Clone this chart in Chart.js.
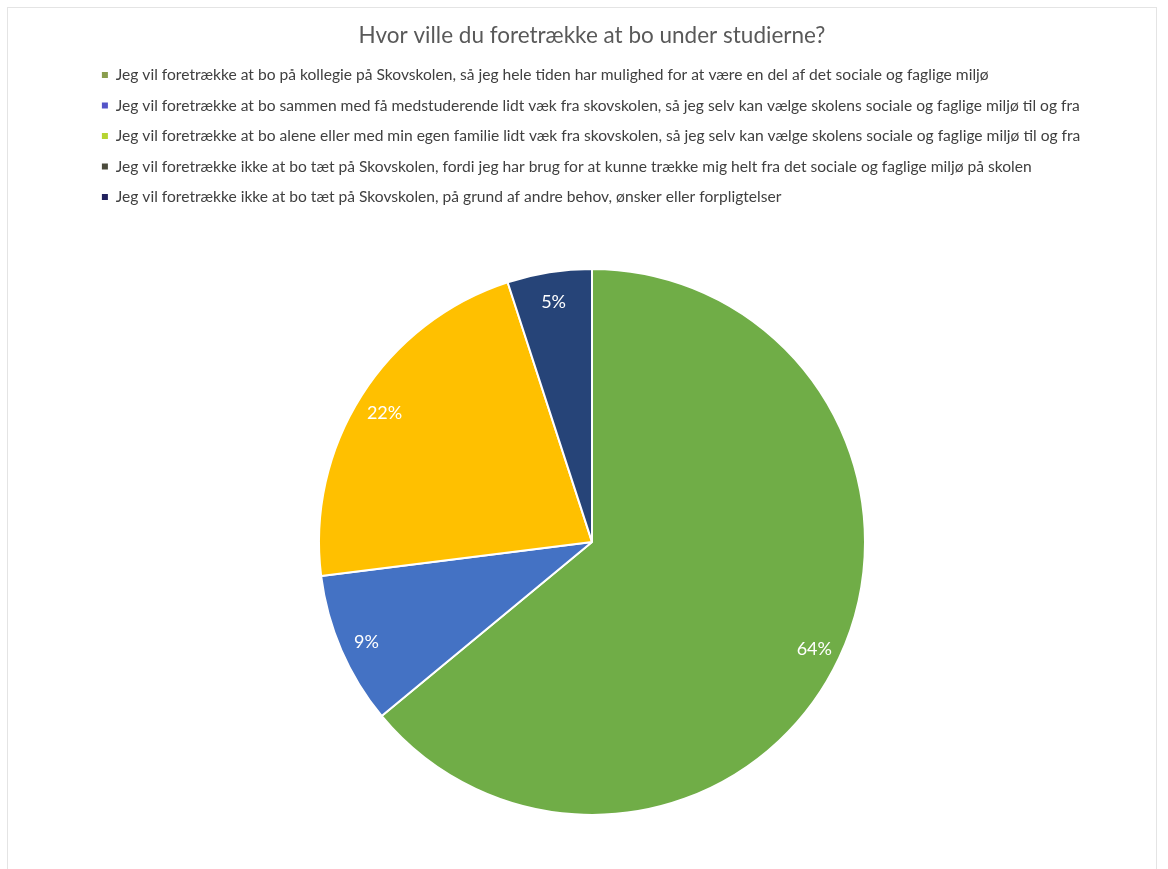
<!DOCTYPE html>
<html>
<head>
<meta charset="utf-8">
<script src="https://cdn.jsdelivr.net/npm/chart.js@4.4.1/dist/chart.umd.min.js"></script>
<style>
  html, body { margin: 0; padding: 0; background: #fff; }
  #frame { position: absolute; left: 7px; top: 7px; width: 1150px; height: 862px; border: 1px solid #e4e4e4; border-bottom: none; box-sizing: border-box; }
  canvas { position: absolute; left: 0; top: 0; }
</style>
</head>
<body>
<div id="frame"></div>
<canvas id="myChart" width="1168" height="869"></canvas>
<script>
var chartTitle = 'Hvor ville du foretrække at bo under studierne?';

var categories = [
    'Jeg vil foretrække at bo på kollegie på Skovskolen, så jeg hele tiden har mulighed for at være en del af det sociale og faglige miljø',
    'Jeg vil foretrække at bo sammen med få medstuderende lidt væk fra skovskolen, så jeg selv kan vælge skolens sociale og faglige miljø til og fra',
    'Jeg vil foretrække at bo alene eller med min egen familie lidt væk fra skovskolen, så jeg selv kan vælge skolens sociale og faglige miljø til og fra',
    'Jeg vil foretrække ikke at bo tæt på Skovskolen, fordi jeg har brug for at kunne trække mig helt fra det sociale og faglige miljø på skolen',
    'Jeg vil foretrække ikke at bo tæt på Skovskolen, på grund af andre behov, ønsker eller forpligtelser'
];

// percent of answers
var shares = [64, 9, 22, 0, 5];

var sliceColors = ['#70AD47', '#4472C4', '#FFC000', '#4B4B3C', '#264478'];
var markerColors = ['#8A9E4E', '#5454C8', '#B6D432', '#4B4B3C', '#22225E'];

// percentage labels near the outer edge of each slice
var sliceLabels = {
    id: 'sliceLabels',
    afterDatasetsDraw: function (chart) {
        var ctx = chart.ctx;
        var meta = chart.getDatasetMeta(0);
        ctx.save();
        ctx.fillStyle = '#ffffff';
        ctx.font = '18px Lato';
        ctx.textAlign = 'center';
        ctx.textBaseline = 'middle';
        meta.data.forEach(function (arc, i) {
            var v = shares[i];
            if (!v) return;
            var p = arc.getProps(['x', 'y', 'startAngle', 'endAngle', 'outerRadius'], true);
            var mid = (p.startAngle + p.endAngle) / 2;
            var r = p.outerRadius * 0.9;
            ctx.fillText(v + '%', p.x + Math.cos(mid) * r, p.y + Math.sin(mid) * r + 3);
        });
        ctx.restore();
    }
};

var ctx = document.getElementById('myChart').getContext('2d');
var myChart = new Chart(ctx, {
    type: 'pie',
    data: {
        labels: categories,
        datasets: [{
            data: shares,
            backgroundColor: sliceColors,
            borderColor: '#ffffff',
            borderWidth: 2,
            radius: 273
        }]
    },
    options: {
        responsive: false,
        animation: false,
        layout: {
            padding: { left: 87, right: 71, top: 0, bottom: -2 }
        },
        plugins: {
            title: {
                display: true,
                text: chartTitle,
                color: '#595959',
                font: { family: 'Lato', size: 22.5, weight: 'normal' },
                padding: { top: 22.5, bottom: 2.8 }
            },
            legend: {
                position: 'top',
                align: 'start',
                labels: {
                    color: '#404040',
                    font: { family: 'Lato', size: 15.6 },
                    boxWidth: 6,
                    boxHeight: 6,
                    padding: 14.9,
                    generateLabels: function (chart) {
                        var items = Chart.overrides.pie.plugins.legend.labels.generateLabels(chart);
                        items.forEach(function (it, i) {
                            it.fillStyle = markerColors[i];
                            it.strokeStyle = markerColors[i];
                            it.lineWidth = 0;
                            it.hidden = false;
                        });
                        return items;
                    }
                }
            },
            tooltip: { enabled: false }
        }
    },
    plugins: [sliceLabels]
});
</script>
</body>
</html>
